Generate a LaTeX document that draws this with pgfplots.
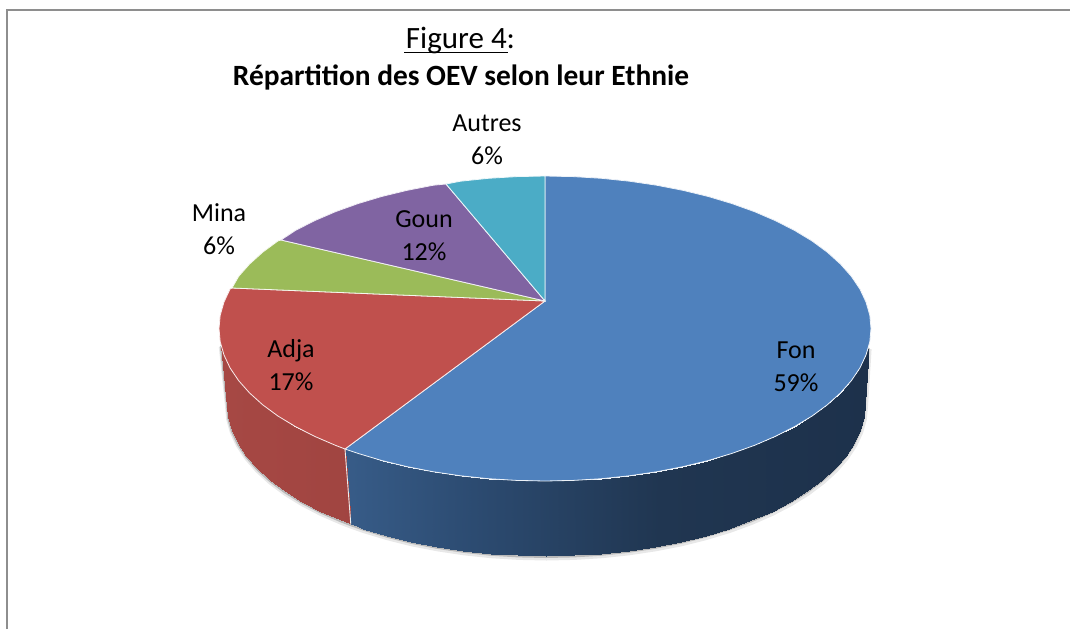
\documentclass[border=0pt]{standalone}
\usepackage{pgfplots}
\usepackage{fontspec}
\setmainfont{Carlito}
\pgfplotsset{compat=1.18}
\usepackage{pgfplotstable}
\definecolor{fon}{HTML}{4F81BD}
\definecolor{adja}{HTML}{C0504D}
\definecolor{mina}{HTML}{9BBB59}
\definecolor{goun}{HTML}{8064A2}
\definecolor{autres}{HTML}{4BACC6}
\definecolor{frame}{HTML}{8E8E8E}
\tikzset{lbl/.style={font=\fontsize{26}{26}\selectfont, anchor=base, inner sep=0pt, text=black}}
\pgfplotstableread{
x y
868.6 347.1
865 404
863.8 417.3
860.1 430.4
854.1 443.3
845.7 456
835.1 468.2
822.2 480
807.3 491.2
790.3 501.7
771.5 511.5
751.1 520.4
729 528.5
705.5 535.6
680.8 541.8
655.1 546.8
628.6 550.8
601.4 553.7
573.8 555.4
546 556
518.2 555.4
490.6 553.7
463.4 550.8
436.9 546.8
411.2 541.8
386.5 535.6
363 528.5
350.8 524.2
340.9 520.4
320.5 511.5
301.7 501.7
284.7 491.2
269.8 480
256.9 468.2
246.3 456
237.9 443.3
231.9 430.4
228.2 417.3
227 404
220.8 345
}\bottomarc
\begin{document}
\begin{tikzpicture}
\begin{axis}[
  scale only axis, width=1070pt, height=629pt,
  xmin=0, xmax=1070, ymin=0, ymax=629, y dir=reverse,
  axis lines=none, clip=true,
  colormap={fonside}{rgb255(0cm)=(66,108,158); rgb255(2cm)=(44,75,113); rgb255(3.5cm)=(32,54,81); rgb255(5.2cm)=(29,49,75)},
  colormap={adjaside}{rgb255(0cm)=(166,72,68); rgb255(1cm)=(138,53,50)},
]
% frame
\addplot[frame, line width=1.6pt] coordinates {(7,629) (7,10) (1070,10)};
% shadow
\addplot[gray!18, line width=5pt, yshift=-2pt, xshift=0.5pt] table {\bottomarc};
\addplot[gray!55, line width=2pt, yshift=-1pt] table {\bottomarc};
% side of Fon
\addplot[surf, shader=interp, mesh/cols=28, point meta=x, point meta min=351, point meta max=871, colormap name=fonside] table {
x y
868.6 347.1
867.4 351
866 355
859.9 368
851.3 380.7
840.5 392.9
827.3 404.8
812.1 416
794.7 426.5
775.5 436.3
754.6 445.3
732 453.4
708 460.6
682.8 466.7
656.5 471.8
629.4 475.8
601.6 478.7
573.4 480.4
545 481
516.6 480.4
488.4 478.7
460.6 475.8
433.5 471.8
407.2 466.7
382 460.6
358 453.4
351 451.1
345 449
865 404
863.8 417.3
860.1 430.4
854.1 443.3
845.7 456
835.1 468.2
822.2 480
807.3 491.2
790.3 501.7
771.5 511.5
751.1 520.4
729 528.5
705.5 535.6
680.8 541.8
655.1 546.8
628.6 550.8
601.4 553.7
573.8 555.4
546 556
518.2 555.4
490.6 553.7
463.4 550.8
436.9 546.8
411.2 541.8
386.5 535.6
363 528.5
356.5 526.2
350.8 524.2
};
% side of Adja
\addplot[surf, shader=interp, mesh/cols=12, point meta=x, point meta min=225, point meta max=351, colormap name=adjaside] table {
x y
345 449
335.4 445.3
314.5 436.3
295.3 426.5
277.9 416
262.7 404.8
249.5 392.9
238.7 380.7
230.1 368
224 355
222.6 351
220.8 345
350.8 524.2
340.9 520.4
320.5 511.5
301.7 501.7
284.7 491.2
269.8 480
256.9 468.2
246.3 456
237.9 443.3
231.9 430.4
228.2 417.3
227 404
};
\addplot[white!85!gray, line width=0.9pt] coordinates {(345,449) (350.8,524.2)};
% top: Fon 59%
\addplot[fill=fon, draw=white!90!fon, line width=0.8pt] coordinates {(545,301) (545,176) (573.4,176.6) (601.6,178.3) (629.4,181.2) (656.5,185.2) (682.8,190.3) (708,196.4) (732,203.6) (754.6,211.7) (775.5,220.7) (794.7,230.5) (812.1,241) (827.3,252.2) (840.5,264.1) (851.3,276.3) (859.9,289) (866,302) (869.8,315.2) (871,328.5) (869.8,341.8) (866,355) (859.9,368) (851.3,380.7) (840.5,392.9) (827.3,404.8) (812.1,416) (794.7,426.5) (775.5,436.3) (754.6,445.3) (732,453.4) (708,460.6) (682.8,466.7) (656.5,471.8) (629.4,475.8) (601.6,478.7) (573.4,480.4) (545,481) (516.6,480.4) (488.4,478.7) (460.6,475.8) (433.5,471.8) (407.2,466.7) (382,460.6) (358,453.4) (345,449)} --cycle;
% top: Adja 17%
\addplot[fill=adja, draw=white!90!adja, line width=0.8pt] coordinates {(545,301) (345,449) (335.4,445.3) (314.5,436.3) (295.3,426.5) (277.9,416) (262.7,404.8) (249.5,392.9) (238.7,380.7) (230.1,368) (224,355) (220.2,341.8) (219,328.5) (220.2,315.2) (224,302) (230.1,289) (232,288)} --cycle;
% top: Mina 6%
\addplot[fill=mina, draw=white!90!mina, line width=0.8pt] coordinates {(545,301) (232,288) (238.7,276.3) (249.5,264.1) (262.7,252.2) (277.9,241) (281,240)} --cycle;
% top: Goun 12%
\addplot[fill=goun, draw=white!90!goun, line width=0.8pt] coordinates {(545,301) (281,240) (295.3,230.5) (314.5,220.7) (335.4,211.7) (358,203.6) (382,196.4) (407.2,190.3) (433.5,185.2) (446,184)} --cycle;
% top: Autres 6%
\addplot[fill=autres, draw=white!90!autres, line width=0.8pt] coordinates {(545,301) (446,184) (460.6,181.2) (488.4,178.3) (516.6,176.6) (545,176)} --cycle;
% text
\node[lbl, font=\fontsize{31}{31}\selectfont] at (axis cs:460.5,48) {Figure 4:};
\addplot[black, line width=1.8pt] coordinates {(404,52.5) (508,52.5)};
\node[lbl, font=\fontsize{29.4}{29.4}\selectfont\bfseries] at (axis cs:461,85) {Répartition des OEV selon leur Ethnie};
\node[lbl] at (axis cs:487,131) {Autres};
\node[lbl] at (axis cs:487,164) {6\%};
\node[lbl] at (axis cs:219,221) {Mina};
\node[lbl] at (axis cs:219,254) {6\%};
\node[lbl] at (axis cs:424,227) {Goun};
\node[lbl] at (axis cs:424,260) {12\%};
\node[lbl] at (axis cs:291,357) {Adja};
\node[lbl] at (axis cs:291,390) {17\%};
\node[lbl] at (axis cs:796,358) {Fon};
\node[lbl] at (axis cs:796,391) {59\%};
\end{axis}
\pgfresetboundingbox
\path[use as bounding box] (0,0) rectangle (1070pt,629pt);
\end{tikzpicture}
\end{document}
